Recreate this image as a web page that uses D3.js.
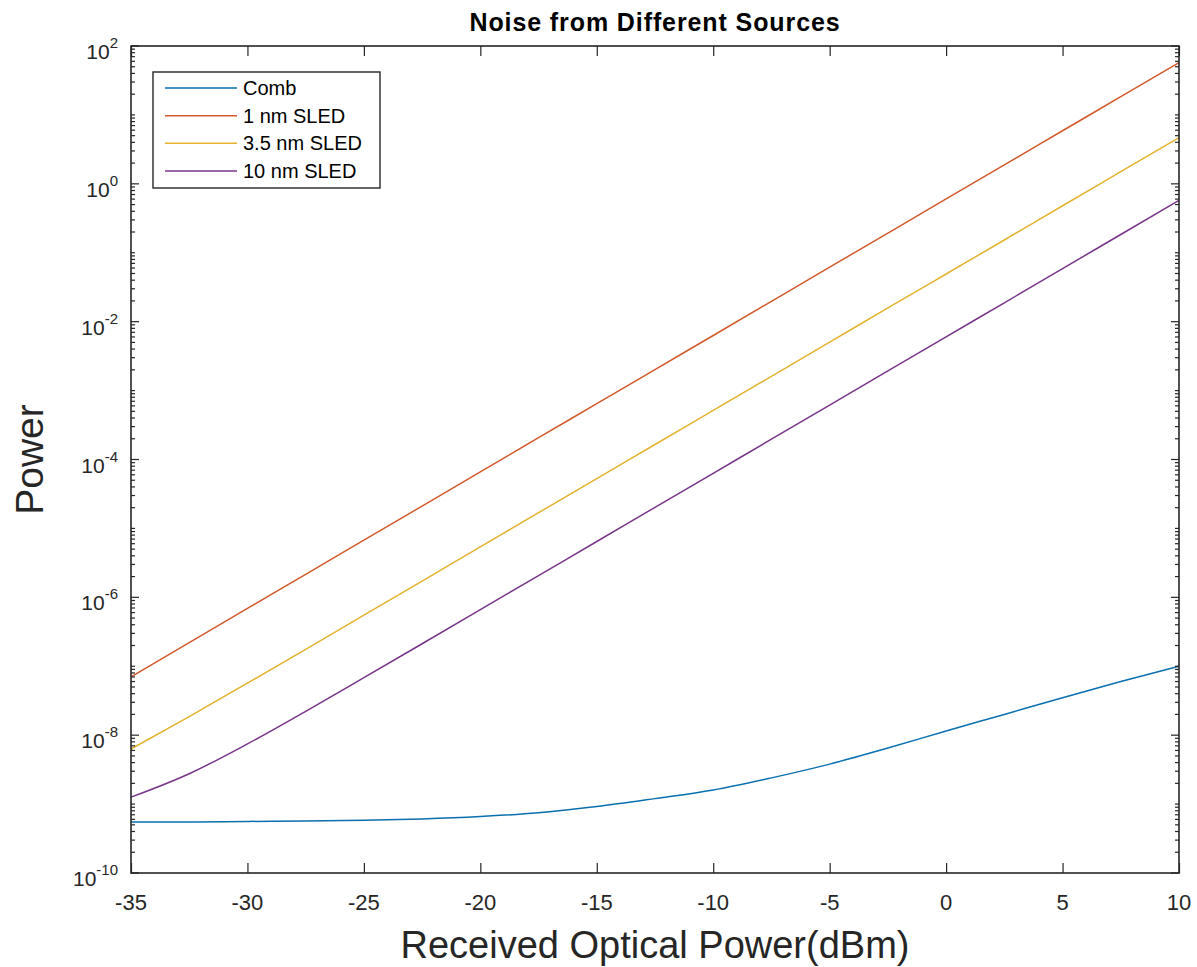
<!DOCTYPE html>
<html>
<head>
<meta charset="utf-8">
<script src="https://cdn.jsdelivr.net/npm/d3@7"></script>
<style>
  html, body { margin: 0; padding: 0; background: #fff; }
  svg { display: block; font-family: "Liberation Sans", Arial, Helvetica, sans-serif; }
</style>
</head>
<body>
<svg id="chart" width="1197" height="967"></svg>
<script>
// Received optical power (dBm) at which each noise value is sampled
const powerDbm = [-35, -32.5, -30, -27.5, -25, -22.5, -20, -17.5, -15, -12.5,
                  -10, -7.5, -5, -2.5, 0, 2.5, 5, 7.5, 10];

// Noise power per source
const combNoise = [5.5e-10, 5.5e-10, 5.6e-10, 5.7e-10, 5.85e-10, 6.1e-10, 6.6e-10, 7.5e-10, 9.2e-10, 1.2e-9,
                   1.6e-9, 2.4e-9, 3.8e-9, 6.5e-9, 1.15e-8, 2.0e-8, 3.5e-8, 6.0e-8, 1.0e-7];
const sled1nm   = [7.0e-8, 2.2e-7, 6.9e-7, 2.16e-6, 6.76e-6, 2.11e-5, 6.6e-5, 2.07e-4, 6.46e-4, 2.02e-3,
                   6.3e-3, 1.97e-2, 6.17e-2, 0.193, 0.603, 1.88, 5.89, 18.4, 57.5];
const sled35nm  = [6.3e-9, 1.86e-8, 5.7e-8, 1.76e-7, 5.52e-7, 1.72e-6, 5.4e-6, 1.69e-5, 5.27e-5, 1.65e-4,
                   5.15e-4, 1.61e-3, 5.04e-3, 1.58e-2, 4.92e-2, 0.153, 0.481, 1.5, 4.69];
const sled10nm  = [1.26e-9, 2.76e-9, 7.47e-9, 2.22e-8, 6.82e-8, 2.12e-7, 6.62e-7, 2.07e-6, 6.46e-6, 2.02e-5,
                   6.31e-5, 1.97e-4, 6.17e-4, 1.93e-3, 6.03e-3, 1.88e-2, 5.89e-2, 0.184, 0.575];

const seriesNames  = ["Comb", "1 nm SLED", "3.5 nm SLED", "10 nm SLED"];
const seriesColors = ["#0a6fb0", "#d2592a", "#e3b22e", "#773489"];
const seriesValues = [combNoise, sled1nm, sled35nm, sled10nm];

const xTicks = [-35, -30, -25, -20, -15, -10, -5, 0, 5, 10];
const yLabelExponents = [-10, -8, -6, -4, -2, 0, 2];

const titleText = "Noise from Different Sources";
const xLabelText = "Received Optical Power(dBm)";
const yLabelText = "Power";

// ---- layout ----
const plot = { left: 131, right: 1179, top: 46, bottom: 873 };
const axisColor = "#262626";

const svg = d3.select("#chart");

const x = d3.scaleLinear().domain([-35, 10]).range([plot.left, plot.right]);
const y = d3.scaleLog().domain([1e-10, 1e2]).range([plot.bottom, plot.top]);

// ---- series lines ----
const line = d3.line()
  .x(d => x(d[0]))
  .y(d => y(d[1]))
  .curve(d3.curveMonotoneX);

const lineGroup = svg.append("g").attr("class", "series");
seriesValues.forEach((vals, i) => {
  lineGroup.append("path")
    .datum(powerDbm.map((p, j) => [p, vals[j]]))
    .attr("fill", "none")
    .attr("stroke", seriesColors[i])
    .attr("stroke-width", 1.5)
    .attr("stroke-linejoin", "round")
    .attr("d", line);
});

// ---- axes box and ticks ----
const axes = svg.append("g").attr("class", "axes");

// y ticks at every k * 10^n, drawn inward on both sides; labelled decades get long ticks
const yTickValues = [];
for (let e = -10; e < 2; e++) {
  for (let k = 1; k <= 9; k++) yTickValues.push(k * Math.pow(10, e));
}
yTickValues.push(1e2);

const isLabeled = v => yLabelExponents.some(e => Math.abs(Math.log10(v) - e) < 1e-9);

axes.append("g")
  .selectAll("g")
  .data(yTickValues)
  .join("g")
  .each(function(v) {
    const len = isLabeled(v) ? 8 : 4;
    const g = d3.select(this);
    g.append("line")
      .attr("x1", plot.left).attr("x2", plot.left + len)
      .attr("y1", y(v)).attr("y2", y(v))
      .attr("stroke", axisColor).attr("stroke-width", 1.2);
    g.append("line")
      .attr("x1", plot.right).attr("x2", plot.right - len)
      .attr("y1", y(v)).attr("y2", y(v))
      .attr("stroke", axisColor).attr("stroke-width", 1.2);
  });

// x ticks inward on bottom and top
const bottomAxis = d3.axisBottom(x).tickValues(xTicks).tickSize(-10).tickFormat("");
const topAxis = d3.axisTop(x).tickValues(xTicks).tickSize(-10).tickFormat("");

axes.append("g")
  .attr("transform", `translate(0,${plot.bottom})`)
  .call(bottomAxis)
  .call(g => g.select(".domain").remove())
  .call(g => g.selectAll("line").attr("stroke", axisColor).attr("stroke-width", 1.2));

axes.append("g")
  .attr("transform", `translate(0,${plot.top})`)
  .call(topAxis)
  .call(g => g.select(".domain").remove())
  .call(g => g.selectAll("line").attr("stroke", axisColor).attr("stroke-width", 1.2));

// box
axes.append("rect")
  .attr("x", plot.left).attr("y", plot.top)
  .attr("width", plot.right - plot.left).attr("height", plot.bottom - plot.top)
  .attr("fill", "none").attr("stroke", axisColor).attr("stroke-width", 1.6);

// x tick labels
axes.append("g")
  .selectAll("text")
  .data(xTicks)
  .join("text")
  .attr("x", d => x(d))
  .attr("y", 910)
  .attr("text-anchor", "middle")
  .attr("font-size", 22)
  .attr("fill", axisColor)
  .text(d => d);

// y tick labels: 10 with superscript exponent
const yLabels = axes.append("g")
  .selectAll("text")
  .data(yLabelExponents)
  .join("text")
  .attr("x", 118)
  .attr("y", e => y(Math.pow(10, e)) + 13)
  .attr("text-anchor", "end")
  .attr("fill", axisColor)
  .attr("font-size", 21);
yLabels.append("tspan").text("10");
yLabels.append("tspan")
  .attr("font-size", 15)
  .attr("dy", -11)
  .text(e => e);

// ---- titles ----
svg.append("text")
  .attr("x", (plot.left + plot.right) / 2)
  .attr("y", 31)
  .attr("text-anchor", "middle")
  .attr("font-size", 25)
  .attr("font-weight", "bold")
  .attr("letter-spacing", 0.9)
  .attr("fill", "#000")
  .text(titleText);

svg.append("text")
  .attr("x", (plot.left + plot.right) / 2)
  .attr("y", 958)
  .attr("text-anchor", "middle")
  .attr("font-size", 38)
  .attr("fill", axisColor)
  .text(xLabelText);

svg.append("text")
  .attr("transform", `translate(43,${(plot.top + plot.bottom) / 2}) rotate(-90)`)
  .attr("text-anchor", "middle")
  .attr("font-size", 39)
  .attr("fill", axisColor)
  .text(yLabelText);

// ---- legend ----
const legend = svg.append("g").attr("class", "legend");
const legendBox = { x: 153, y: 72, w: 227, h: 116 };
legend.append("rect")
  .attr("x", legendBox.x).attr("y", legendBox.y)
  .attr("width", legendBox.w).attr("height", legendBox.h)
  .attr("fill", "#fff").attr("stroke", axisColor).attr("stroke-width", 1.4);

const rowY = d3.scalePoint().domain(seriesNames).range([88, 171]);
const rows = legend.selectAll("g.row")
  .data(seriesNames)
  .join("g")
  .attr("class", "row")
  .attr("transform", d => `translate(0,${rowY(d)})`);
rows.append("line")
  .attr("x1", 165).attr("x2", 237)
  .attr("y1", 0).attr("y2", 0)
  .attr("stroke", (d, i) => seriesColors[i])
  .attr("stroke-width", 1.5);
rows.append("text")
  .attr("x", 243)
  .attr("y", 7)
  .attr("font-size", 20)
  .attr("fill", "#000")
  .text(d => d);
</script>
</body>
</html>
